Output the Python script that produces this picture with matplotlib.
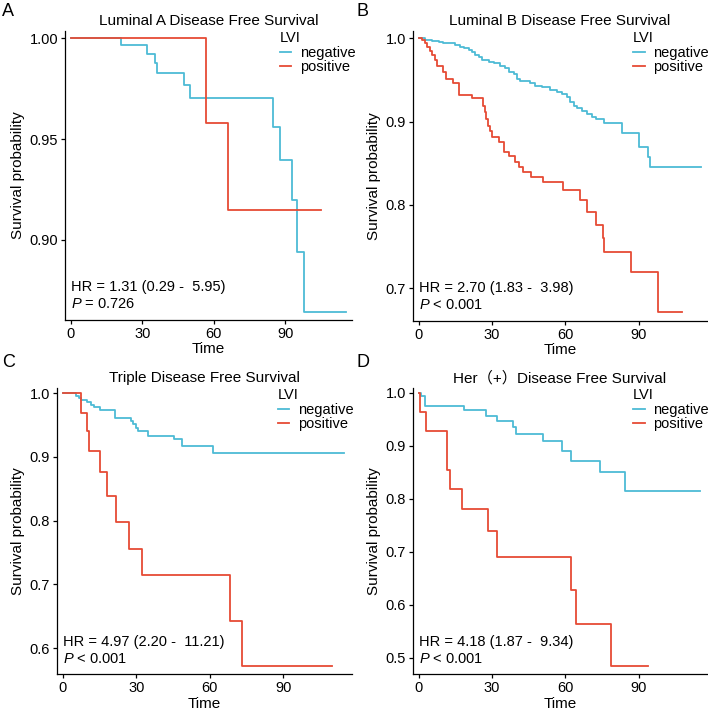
import matplotlib
matplotlib.use('Agg')
import matplotlib.pyplot as plt

plt.rcParams['font.family'] = ['Liberation Sans', 'Noto Sans CJK SC', 'DejaVu Sans']
plt.rcParams['mathtext.fontset'] = 'custom'
plt.rcParams['mathtext.it'] = 'Liberation Sans:italic'
plt.rcParams['mathtext.rm'] = 'Liberation Sans'

# 颜色
c_neg = '#4DBBD5'
c_pos = '#E64B35'

# ---------------- 数据 (KM 曲线读数) ----------------
# A Luminal A
a_neg_t = [0, 21.2, 32.1, 35.3, 36.0, 47.5, 50.1, 84.7, 87.8, 92.7, 95.0, 97.8, 115.6]
a_neg_s = [1.0, 0.9965, 0.9921, 0.9878, 0.9828, 0.9767, 0.9706, 0.9558, 0.9396, 0.9198, 0.8942, 0.8645, 0.8645]
a_pos_t = [0, 56.5, 65.9, 104.8]
a_pos_s = [1.0, 0.9581, 0.9149, 0.9149]

# B Luminal B
b_neg_t = [0, 2.6, 5.3, 8.1, 10.1, 14.9, 16.7, 18.3, 20.4, 21.8, 23.1, 24.5, 25.9, 28.6, 30.6,
           33.4, 35.4, 36.8, 38.9, 40.2, 41.6, 45.7, 47.7, 50.5, 53.9, 56.6, 58.7, 60.7, 62.1,
           63.5, 64.8, 66.9, 68.9, 71.0, 72.4, 75.8, 83.0, 90.2, 94.0, 94.7, 115.5]
b_neg_s = [1.0, 0.998, 0.997, 0.996, 0.994, 0.992, 0.990, 0.988, 0.986, 0.983, 0.980, 0.977, 0.974,
           0.972, 0.970, 0.967, 0.964, 0.960, 0.957, 0.951, 0.949, 0.946, 0.943, 0.941, 0.938, 0.935,
           0.933, 0.929, 0.924, 0.919, 0.916, 0.913, 0.909, 0.906, 0.903, 0.898, 0.886, 0.870, 0.858,
           0.846, 0.846]
b_pos_t = [0, 1.2, 2.5, 3.5, 4.5, 5.5, 6.5, 7.5, 10.0, 11.0, 14.0, 16.3, 21.8, 26.3, 27.0, 27.7,
           28.4, 29.1, 30.0, 33.0, 35.0, 37.0, 39.5, 41.0, 42.5, 46.0, 51.0, 59.0, 66.0, 69.0, 72.5,
           75.3, 75.8, 86.7, 97.9, 107.9]
b_pos_s = [1.0, 0.998, 0.994, 0.990, 0.985, 0.980, 0.974, 0.967, 0.960, 0.951, 0.946, 0.932, 0.928,
           0.919, 0.911, 0.903, 0.895, 0.889, 0.881, 0.876, 0.864, 0.859, 0.852, 0.846, 0.840, 0.834,
           0.827, 0.818, 0.806, 0.792, 0.776, 0.760, 0.744, 0.720, 0.672, 0.672]

# C Triple
c_neg_t = [0, 5.4, 6.5, 7.5, 9.8, 11.6, 12.9, 15.0, 21.1, 27.9, 28.8, 29.9, 30.6, 34.7, 45.5, 48.7, 61.2, 114.9]
c_neg_s = [1.0, 0.996, 0.993, 0.990, 0.986, 0.982, 0.978, 0.974, 0.961, 0.957, 0.951, 0.946, 0.940,
           0.933, 0.928, 0.918, 0.907, 0.907]
c_pos_t = [0, 7.5, 9.9, 10.6, 15.0, 18.1, 21.8, 26.8, 32.2, 68.2, 73.0, 109.7]
c_pos_s = [1.0, 0.969, 0.940, 0.909, 0.876, 0.838, 0.798, 0.756, 0.714, 0.642, 0.572, 0.572]

# D Her(+)
d_neg_t = [0, 0.8, 2.5, 18.5, 27.7, 32.0, 38.6, 40.0, 50.9, 58.6, 62.5, 74.0, 84.3, 115.0]
d_neg_s = [1.0, 0.994, 0.975, 0.967, 0.957, 0.947, 0.936, 0.923, 0.909, 0.890, 0.872, 0.850, 0.814, 0.814]
d_pos_t = [0, 0.4, 2.9, 11.7, 12.7, 17.7, 28.4, 32.0, 62.5, 64.2, 78.8, 93.8]
d_pos_s = [1.0, 0.965, 0.928, 0.855, 0.818, 0.780, 0.740, 0.690, 0.627, 0.564, 0.484, 0.484]

titles = ['Luminal A Disease Free Survival', 'Luminal B Disease Free Survival',
          'Triple Disease Free Survival', 'Her（+）Disease Free Survival']
letters = ['A', 'B', 'C', 'D']
hr_text = ['HR = 1.31 (0.29 -  5.95)', 'HR = 2.70 (1.83 -  3.98)',
           'HR = 4.97 (2.20 -  11.21)', 'HR = 4.18 (1.87 -  9.34)']
p_text = ['= 0.726', '< 0.001', '< 0.001', '< 0.001']
y_ticks = [[0.90, 0.95, 1.00], [0.7, 0.8, 0.9, 1.0], [0.6, 0.7, 0.8, 0.9, 1.0],
           [0.5, 0.6, 0.7, 0.8, 0.9, 1.0]]
y_fmt = ['%.2f', '%.1f', '%.1f', '%.1f']
y_lims = [(0.8603, 1.0036), (0.661, 1.0088), (0.5587, 1.0083), (0.4687, 1.0094)]
x_ticks = [0, 30, 60, 90]

curves = [(a_neg_t, a_neg_s, a_pos_t, a_pos_s),
          (b_neg_t, b_neg_s, b_pos_t, b_pos_s),
          (c_neg_t, c_neg_s, c_pos_t, c_pos_s),
          (d_neg_t, d_neg_s, d_pos_t, d_pos_s)]

W, H = 708, 713
fig = plt.figure(figsize=(W / 100, H / 100), dpi=100)

# 每个面板的像素框 (left, top, right, bottom)
boxes = [(65, 31, 352, 320), (412.7, 31, 707, 320.7),
         (56.7, 388, 352, 674.3), (412.7, 388, 707, 674.3)]
letter_pos = [(2, 12), (357, 12), (2, 363), (357, 363)]

for i in range(4):
    l, t, r, b = boxes[i]
    ax = fig.add_axes([l / W, (H - b) / H, (r - l) / W, (b - t) / H])
    nt, ns, pt, ps = curves[i]
    ln1, = ax.step(nt, ns, where='post', color=c_neg, lw=1.3, label='negative')
    ln2, = ax.step(pt, ps, where='post', color=c_pos, lw=1.3, label='positive')
    ax.set_xlim(-2.5, 118)
    ax.set_ylim(*y_lims[i])
    ax.set_xticks(x_ticks)
    ax.set_yticks(y_ticks[i])
    ax.set_yticklabels([y_fmt[i] % v for v in y_ticks[i]])
    for s in ['top', 'right']:
        ax.spines[s].set_visible(False)
    for s in ['left', 'bottom']:
        ax.spines[s].set_linewidth(0.9)
    ax.tick_params(labelsize=10.5, length=3, width=0.9, colors='black', pad=2)
    ax.set_xlabel('Time', fontsize=11, labelpad=1)
    ax.set_ylabel('Survival probability', fontsize=11, labelpad=3)
    ax.set_title(titles[i], fontsize=11, pad=4)
    # HR / P
    tr = ax.get_xaxis_transform()
    ax.text(0, 0.113, hr_text[i], transform=tr, fontsize=10.5, va='center', ha='left')
    ax.text(0, 0.055, r'$\it{P}$ ' + p_text[i], transform=tr, fontsize=10.5, va='center', ha='left')
    leg = ax.legend(handles=[ln1, ln2], title='LVI', loc='upper left', bbox_to_anchor=(0.748, 1.0),
                    frameon=False, fontsize=10.5, title_fontsize=10.5, handlelength=0.8,
                    handletextpad=0.6, labelspacing=0.05, borderpad=0, borderaxespad=0,
                    alignment='left')
    fig.text(letter_pos[i][0] / W, 1 - letter_pos[i][1] / H, letters[i], fontsize=13,
             ha='left', va='center')

fig.savefig('out.png', dpi=100)
